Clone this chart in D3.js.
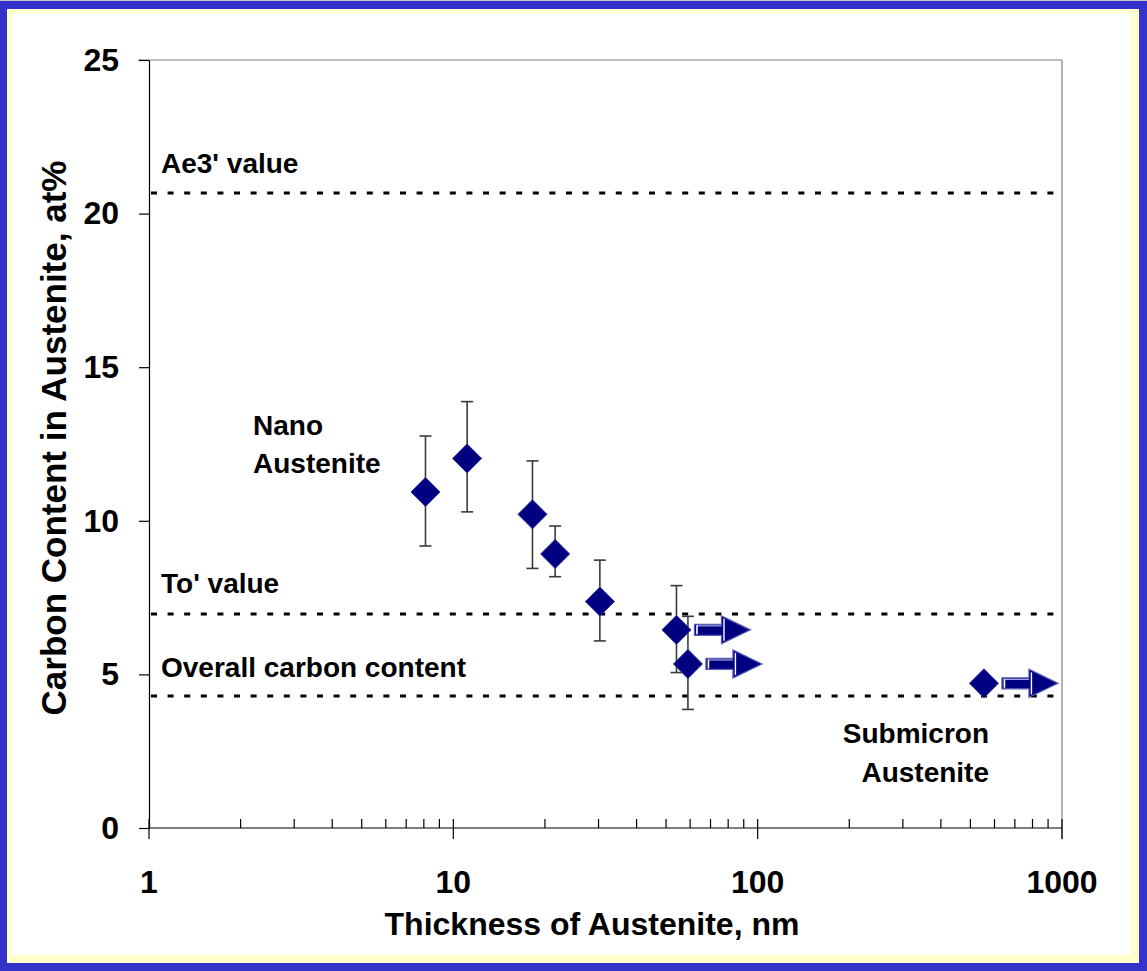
<!DOCTYPE html>
<html><head><meta charset="utf-8">
<script src="https://cdn.jsdelivr.net/npm/d3@7"></script>
<style>html,body{margin:0;padding:0;background:#fff;}svg{display:block;}</style>
</head><body>
<svg id="c" width="1147" height="971"></svg>
<script>
// ---- data ----
const thickness = [8.1, 11.1, 18.2, 21.6, 30.3, 54.1, 59.0, 554];
const carbon    = [10.94, 12.03, 10.21, 8.92, 7.37, 6.45, 5.34, 4.71];
const errLow    = [9.18, 10.29, 8.45, 8.18, 6.09, 5.06, 3.86, null];
const errHigh   = [12.76, 13.88, 11.95, 9.83, 8.72, 7.89, 6.89, null];
const lowerBound = [false, false, false, false, false, true, true, true];
const refNames  = ["Ae3' value", "To' value", "Overall carbon content"];
const refValues = [20.67, 6.97, 4.3];
const xTicks = [1, 10, 100, 1000];
const xTickLabels = ["1", "10", "100", "1000"];
const yTicks = [0, 5, 10, 15, 20, 25];
const yTickLabels = ["0", "5", "10", "15", "20", "25"];
const xTitle = "Thickness of Austenite, nm";
const yTitle = "Carbon Content in Austenite, at%";

const svg = d3.select("#c");
const FONT = "'Liberation Sans', Arial, sans-serif";

// frame
svg.append("rect").attr("x",0).attr("y",0).attr("width",1147).attr("height",971).attr("fill","#3333cc");
svg.append("rect").attr("x",0).attr("y",0).attr("width",1147).attr("height",1).attr("fill","#c8c8c8");
svg.append("rect").attr("x",7).attr("y",9).attr("width",1132).attr("height",954).attr("fill","#ffffcc");
svg.append("rect").attr("x",12).attr("y",13).attr("width",1119).attr("height",942).attr("fill","#ffffff");

const L = 149, R = 1062, T = 60, B = 828;
const x = d3.scaleLog().domain([1, 1000]).range([L, R]);
const y = d3.scaleLinear().domain([0, 25]).range([B, T]);

// plot frame: top and right gray
svg.append("line").attr("x1",L-11).attr("x2",R).attr("y1",T).attr("y2",T).attr("stroke","#808080").attr("stroke-width",1.2);
svg.append("line").attr("x1",R).attr("x2",R).attr("y1",T).attr("y2",B+11).attr("stroke","#808080").attr("stroke-width",1.2);

// reference dashed lines
svg.append("g").selectAll("line").data(refValues).join("line")
  .attr("x1", L+2).attr("x2", R).attr("y1", d=>y(d)).attr("y2", d=>y(d))
  .attr("stroke","#000").attr("stroke-width",3).attr("stroke-dasharray","6,10.6");

// y axis
const yAxis = d3.axisLeft(y).tickValues(yTicks).tickFormat((d,i)=>yTickLabels[i]).tickSize(10).tickSizeOuter(0).tickPadding(20);
const gy = svg.append("g").attr("transform",`translate(${L},0)`).call(yAxis);
gy.select(".domain").attr("stroke","#000").attr("stroke-width",1.2);
gy.selectAll(".tick line").attr("stroke","#000").attr("stroke-width",1.2);
gy.selectAll("text").attr("font-family",FONT).attr("font-weight","bold").attr("font-size",32).attr("fill","#000");

// x axis: minor ticks (up) and major ticks (crossing)
const minor = [];
for (let dec of [1,10,100]) for (let k=2;k<=9;k++) minor.push(dec*k);
const gx = svg.append("g");
gx.append("line").attr("x1",L).attr("x2",R).attr("y1",B).attr("y2",B).attr("stroke","#000").attr("stroke-width",1.2);
gx.selectAll("line.minor").data(minor).join("line").attr("class","minor")
  .attr("x1",d=>x(d)).attr("x2",d=>x(d)).attr("y1",B).attr("y2",B-9).attr("stroke","#000").attr("stroke-width",1.2);
gx.selectAll("line.major").data(xTicks).join("line").attr("class","major")
  .attr("x1",d=>x(d)).attr("x2",d=>x(d)).attr("y1",B-9).attr("y2",B+11).attr("stroke","#000").attr("stroke-width",1.2);
gx.selectAll("text").data(xTicks).join("text")
  .attr("x",d=>x(d)).attr("y",893).attr("text-anchor","middle")
  .attr("font-family",FONT).attr("font-weight","bold").attr("font-size",32).text((d,i)=>xTickLabels[i]);

// axis titles
svg.append("text").attr("x",592).attr("y",935).attr("text-anchor","middle")
  .attr("font-family",FONT).attr("font-weight","bold").attr("font-size",32).text(xTitle);
svg.append("text").attr("transform","translate(66,438) rotate(-90)").attr("text-anchor","middle")
  .attr("font-family",FONT).attr("font-weight","bold").attr("font-size",35).text(yTitle);

// reference labels
const refLabelY = [173, 593, 677];
svg.append("g").selectAll("text").data(refNames).join("text")
  .attr("x",161).attr("y",(d,i)=>refLabelY[i])
  .attr("font-family",FONT).attr("font-weight","bold").attr("font-size",28).text(d=>d);

// region labels
const reg = svg.append("g").attr("font-family",FONT).attr("font-weight","bold").attr("font-size",28);
reg.append("text").attr("x",253).attr("y",435).text("Nano");
reg.append("text").attr("x",253).attr("y",473).text("Austenite");
reg.append("text").attr("x",989).attr("y",743).attr("text-anchor","end").text("Submicron");
reg.append("text").attr("x",989).attr("y",782).attr("text-anchor","end").text("Austenite");

const pts = thickness.map((t,i)=>({t, c:carbon[i], lo:errLow[i], hi:errHigh[i], lb:lowerBound[i]}));

// error bars
const eb = svg.append("g").attr("stroke","#3a3a3a").attr("stroke-width",1.6);
pts.filter(p=>p.lo!=null).forEach(p=>{
  const px = x(p.t);
  eb.append("line").attr("x1",px).attr("x2",px).attr("y1",y(p.lo)).attr("y2",y(p.hi));
  eb.append("line").attr("x1",px-6).attr("x2",px+6).attr("y1",y(p.lo)).attr("y2",y(p.lo));
  eb.append("line").attr("x1",px-6).attr("x2",px+6).attr("y1",y(p.hi)).attr("y2",y(p.hi));
});

// arrows for lower-bound thickness
const ag = svg.append("g");
pts.filter(p=>p.lb).forEach(p=>{
  const x0 = x(p.t)+18, yc = y(p.c);
  const len = 56, headL = 29, sh = 5.5, hh = 14;
  const xb = x0 + len - headL;
  const path = `M${x0},${yc-sh}L${xb},${yc-sh}L${xb},${yc-hh}L${x0+len},${yc}L${xb},${yc+hh}L${xb},${yc+sh}L${x0},${yc+sh}Z`;
  ag.append("path").attr("d",path).attr("fill","#000080").attr("stroke","#5a5ab8").attr("stroke-width",1.2);
  ag.append("line").attr("x1",x0+2.5).attr("x2",x0+2.5).attr("y1",yc-sh+1).attr("y2",yc+sh-1).attr("stroke","#fff").attr("stroke-width",1.6);
  ag.append("line").attr("x1",xb+2.5).attr("x2",xb+2.5).attr("y1",yc-hh+3).attr("y2",yc+hh-3).attr("stroke","#fff").attr("stroke-width",1.4);
  ag.append("line").attr("x1",x0+2).attr("x2",xb).attr("y1",yc-sh+1.5).attr("y2",yc-sh+1.5).attr("stroke","#c8c8f0").attr("stroke-width",1);
});

// diamonds
svg.append("g").selectAll("path").data(pts).join("path")
  .attr("d", d=>{const cx=x(d.t), cy=y(d.c), r=14.5; return `M${cx},${cy-r}L${cx+r},${cy}L${cx},${cy+r}L${cx-r},${cy}Z`;})
  .attr("fill","#000080").attr("stroke","#2a2aa0").attr("stroke-width",1);
</script>
</body></html>
